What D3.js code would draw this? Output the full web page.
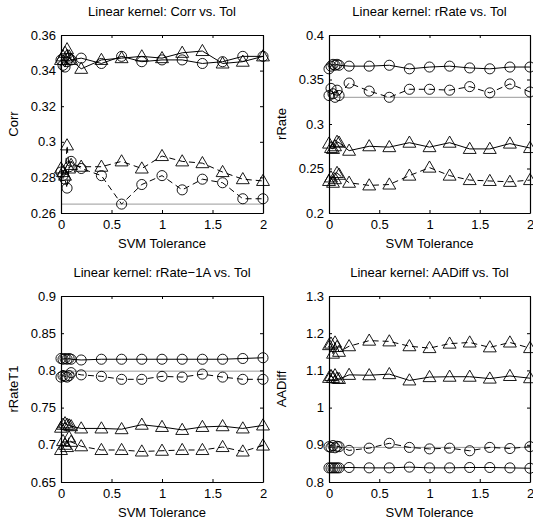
<!DOCTYPE html>
<html>
<head>
<meta charset="utf-8">
<script src="https://cdn.jsdelivr.net/npm/d3@7"></script>
<style>
  body { margin: 0; background: #fff; }
  svg { display: block; font-family: "Liberation Sans", Arial, sans-serif; }
</style>
</head>
<body>
<div id="chart"></div>
<script>
// SVM tolerance values (x axis)
const tol = [0, 0.02, 0.04, 0.06, 0.08, 0.1, 0.2, 0.4, 0.6, 0.8, 1.0, 1.2, 1.4, 1.6, 1.8, 2.0];
const xTicks = [0, 0.5, 1, 1.5, 2];

// Corr
const corrCircleSolid  = [0.346, 0.343, 0.342, 0.345, 0.347, 0.346, 0.347, 0.344, 0.348, 0.345, 0.346, 0.346, 0.344, 0.345, 0.348, 0.348];
const corrTriSolid     = [0.346, 0.348, 0.350, 0.352, 0.348, 0.346, 0.341, 0.346, 0.347, 0.348, 0.347, 0.350, 0.351, 0.344, 0.345, 0.348];
const corrCircleDashed = [0.283, 0.281, 0.279, 0.274, 0.286, 0.289, 0.285, 0.281, 0.265, 0.276, 0.281, 0.273, 0.279, 0.277, 0.268, 0.268];
const corrTriDashed    = [0.285, 0.283, 0.281, 0.298, 0.285, 0.287, 0.286, 0.286, 0.289, 0.285, 0.292, 0.289, 0.288, 0.283, 0.279, 0.278];
const corrBase = 0.265;
const corrTicks = [0.26, 0.28, 0.3, 0.32, 0.34, 0.36];

// rRate
const rateCircleSolid  = [0.362, 0.365, 0.367, 0.366, 0.367, 0.366, 0.365, 0.365, 0.366, 0.362, 0.364, 0.365, 0.363, 0.362, 0.364, 0.364];
const rateCircleDashed = [0.332, 0.340, 0.334, 0.330, 0.338, 0.332, 0.346, 0.337, 0.330, 0.339, 0.339, 0.338, 0.342, 0.335, 0.345, 0.336];
const rateTriSolid     = [0.278, 0.273, 0.272, 0.275, 0.280, 0.279, 0.270, 0.275, 0.274, 0.279, 0.274, 0.279, 0.272, 0.272, 0.278, 0.273];
const rateTriDashed    = [0.236, 0.240, 0.234, 0.238, 0.245, 0.243, 0.234, 0.231, 0.232, 0.242, 0.251, 0.242, 0.237, 0.236, 0.235, 0.237];
const rateBase = 0.330;
const rateTicks = [0.2, 0.25, 0.3, 0.35, 0.4];

// rRateT1
const t1CircleSolid  = [0.816, 0.815, 0.816, 0.815, 0.816, 0.815, 0.814, 0.815, 0.815, 0.815, 0.815, 0.815, 0.815, 0.815, 0.816, 0.817];
const t1CircleDashed = [0.791, 0.793, 0.792, 0.791, 0.793, 0.797, 0.794, 0.792, 0.788, 0.788, 0.792, 0.791, 0.795, 0.791, 0.788, 0.788];
const t1TriSolid     = [0.723, 0.727, 0.729, 0.727, 0.726, 0.725, 0.722, 0.722, 0.721, 0.727, 0.724, 0.720, 0.724, 0.725, 0.722, 0.726];
const t1TriDashed    = [0.693, 0.705, 0.700, 0.697, 0.710, 0.704, 0.698, 0.693, 0.693, 0.691, 0.692, 0.693, 0.693, 0.697, 0.691, 0.699];
const t1Base = 0.799;
const t1Ticks = [0.65, 0.7, 0.75, 0.8, 0.85, 0.9];

// AADiff
const aadTriDashed    = [1.168, 1.172, 1.145, 1.175, 1.163, 1.150, 1.165, 1.180, 1.178, 1.165, 1.160, 1.172, 1.175, 1.162, 1.175, 1.160];
const aadTriSolid     = [1.080, 1.085, 1.080, 1.087, 1.078, 1.077, 1.088, 1.087, 1.090, 1.073, 1.082, 1.083, 1.083, 1.078, 1.085, 1.079];
const aadCircleDashed = [0.895, 0.893, 0.898, 0.892, 0.896, 0.895, 0.885, 0.891, 0.904, 0.893, 0.889, 0.891, 0.884, 0.893, 0.890, 0.895];
const aadCircleSolid  = [0.838, 0.838, 0.838, 0.838, 0.838, 0.838, 0.839, 0.838, 0.838, 0.840, 0.838, 0.838, 0.839, 0.839, 0.838, 0.837];
const aadBase = 0.893;
const aadTicks = [0.8, 0.9, 1, 1.1, 1.2, 1.3];

const width = 533, height = 519;

const svg = d3.select("#chart").append("svg")
    .attr("width", width)
    .attr("height", height);

const panels = [
    {title: "Linear kernel: Corr vs. Tol", ylabel: "Corr", domain: [0.26, 0.36], ticks: corrTicks, base: corrBase,
     x0: 61, x1: 263, y0: 35, y1: 213,
     series: [
        {v: corrCircleSolid, m: "circle", dash: false},
        {v: corrTriSolid, m: "triangle", dash: false},
        {v: corrCircleDashed, m: "circle", dash: true},
        {v: corrTriDashed, m: "triangle", dash: true}
     ]},
    {title: "Linear kernel: rRate vs. Tol", ylabel: "rRate", domain: [0.2, 0.4], ticks: rateTicks, base: rateBase,
     x0: 329, x1: 530, y0: 35, y1: 213,
     series: [
        {v: rateCircleSolid, m: "circle", dash: false},
        {v: rateCircleDashed, m: "circle", dash: true},
        {v: rateTriSolid, m: "triangle", dash: false},
        {v: rateTriDashed, m: "triangle", dash: true}
     ]},
    {title: "Linear kernel: rRate\u22121A vs. Tol", ylabel: "rRateT1", domain: [0.65, 0.9], ticks: t1Ticks, base: t1Base,
     x0: 61, x1: 263, y0: 296, y1: 482,
     series: [
        {v: t1CircleSolid, m: "circle", dash: false},
        {v: t1CircleDashed, m: "circle", dash: true},
        {v: t1TriSolid, m: "triangle", dash: false},
        {v: t1TriDashed, m: "triangle", dash: true}
     ]},
    {title: "Linear kernel: AADiff vs. Tol", ylabel: "AADiff", domain: [0.8, 1.3], ticks: aadTicks, base: aadBase,
     x0: 329, x1: 530, y0: 296, y1: 482,
     series: [
        {v: aadTriDashed, m: "triangle", dash: true},
        {v: aadTriSolid, m: "triangle", dash: false},
        {v: aadCircleDashed, m: "circle", dash: true},
        {v: aadCircleSolid, m: "circle", dash: false}
     ]}
];

panels.forEach(drawPanel);

function drawPanel(p) {
    const x = d3.scaleLinear().domain([0, 2]).range([p.x0, p.x1]);
    const y = d3.scaleLinear().domain(p.domain).range([p.y1, p.y0]);
    const g = svg.append("g");

    // gray reference line
    g.append("line")
        .attr("x1", x(0)).attr("x2", x(2))
        .attr("y1", y(p.base)).attr("y2", y(p.base))
        .attr("stroke", "#999")
        .attr("stroke-width", 1);

    const line = d3.line()
        .x((d, i) => x(tol[i]))
        .y(d => y(d));

    const circle = d3.symbol().type(d3.symbolCircle).size(80);
    const tri = d3.symbol().type(d3.symbolTriangle).size(72);

    p.series.forEach(s => {
        g.append("path")
            .datum(s.v)
            .attr("d", line)
            .attr("fill", "none")
            .attr("stroke", "#000")
            .attr("stroke-width", 1)
            .attr("stroke-dasharray", s.dash ? "6,4" : null);

        g.selectAll(null)
            .data(s.v)
            .enter().append("path")
            .attr("transform", (d, i) => `translate(${x(tol[i])},${y(d) + (s.m === "triangle" ? 0.8 : 0)})`)
            .attr("d", s.m === "circle" ? circle : tri)
            .attr("fill", "none")
            .attr("stroke", "#000")
            .attr("stroke-width", 0.9);
    });

    // axes, matlab style: ticks inside, box
    const bottom = g.append("g")
        .attr("transform", `translate(0,${p.y1})`)
        .call(d3.axisBottom(x).tickValues(xTicks).tickFormat(d3.format("")).tickSizeInner(-3).tickSizeOuter(0).tickPadding(7));
    const top = g.append("g")
        .attr("transform", `translate(0,${p.y0})`)
        .call(d3.axisTop(x).tickValues(xTicks).tickFormat("").tickSizeInner(-3).tickSizeOuter(0));
    const left = g.append("g")
        .attr("transform", `translate(${p.x0},0)`)
        .call(d3.axisLeft(y).tickValues(p.ticks).tickFormat(d3.format("")).tickSizeInner(-3).tickSizeOuter(0).tickPadding(5));
    const right = g.append("g")
        .attr("transform", `translate(${p.x1},0)`)
        .call(d3.axisRight(y).tickValues(p.ticks).tickFormat("").tickSizeInner(-3).tickSizeOuter(0));

    [bottom, top, left, right].forEach(a => {
        a.select(".domain").attr("stroke", "#000").attr("stroke-width", 1.2);
        a.selectAll(".tick line").attr("stroke", "#000");
        a.selectAll(".tick text")
            .attr("fill", "#000")
            .style("font-size", "13px")
            .style("font-family", "'Liberation Sans', Arial, sans-serif");
    });

    g.append("text")
        .attr("x", (p.x0 + p.x1) / 2)
        .attr("y", p.y0 - 19)
        .attr("text-anchor", "middle")
        .style("font-size", "13px")
        .text(p.title);

    g.append("text")
        .attr("x", (p.x0 + p.x1) / 2)
        .attr("y", p.y1 + 35)
        .attr("text-anchor", "middle")
        .style("font-size", "13px")
        .text("SVM Tolerance");

    g.append("text")
        .attr("transform", `translate(${p.x0 - 43},${(p.y0 + p.y1) / 2}) rotate(-90)`)
        .attr("text-anchor", "middle")
        .style("font-size", "13px")
        .text(p.ylabel);
}
</script>
</body>
</html>
